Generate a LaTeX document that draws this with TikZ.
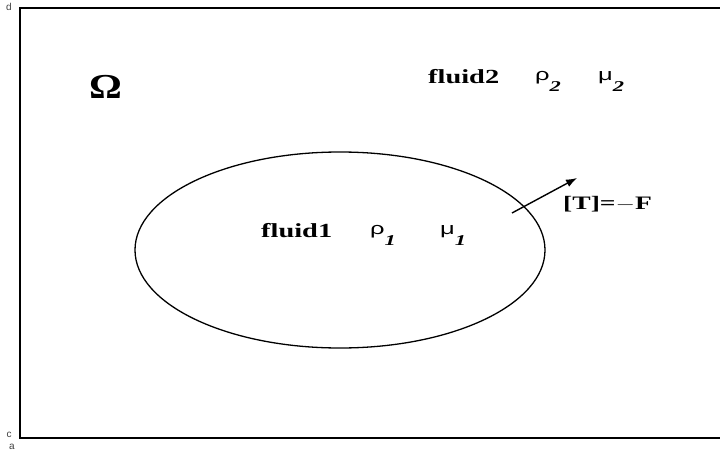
\documentclass[tikz,border=0pt]{standalone}
\usepackage{fontspec}
\setmainfont{Liberation Serif}
\newfontfamily\grk{Liberation Sans}
\usetikzlibrary{arrows.meta, positioning, shapes.geometric}
\tikzset{
  dom/.style={draw, line width=1.6pt},
  drop/.style={draw, ellipse, line width=1.3pt, minimum width=410pt, minimum height=196pt, inner sep=0pt},
  nm/.style={font=\fontsize{20}{22}\selectfont\bfseries, inner sep=0pt, anchor=base west},
  gk/.style={font=\fontsize{17}{20}\selectfont, inner sep=0pt, anchor=base west},
  tiny/.style={font=\fontsize{10}{12}\selectfont\grk, text=black!75, inner sep=0pt, anchor=base},
  arrow/.style={-{Latex[length=11pt,width=8pt]}, line width=1.4pt}
}
\newcommand{\wide}[2][1.42]{\scalebox{#1}[1]{#2}}
\newcommand{\gsub}[2]{\wide[1.5]{{\grk #1}\raisebox{-11pt}{\fontsize{15}{16}\selectfont\bfseries\itshape #2}}}
\begin{document}
\begin{tikzpicture}[x=1pt, y=-1pt]
  \useasboundingbox (0,0) rectangle (720,452);
  % computational domain
  \coordinate (ll) at (20,438);
  \coordinate (ul) at (20,8);
  \coordinate (ur) at (722,8);
  \coordinate (lr) at (722,438);
  \draw[dom] (ur) -- (ul) -- (ll) -- (lr);
  \node[tiny] (d) at (9,11) {d};
  \node[tiny] (c) at (9,437) {c};
  \node[tiny] (a) at (12,449) {a};
  \node[font=\fontsize{35}{38}\selectfont\bfseries, inner sep=0pt, anchor=base west] (om) at (89,98) {\wide[1.17]{Ω}};
  % outer fluid
  \node[nm] (f2) at (428,83) {\wide{fluid2}};
  \node[gk] (r2) at (535,81) {\gsub{ρ}{2}};
  \node[gk] (m2) at (598,81) {\gsub{μ}{2}};
  % drop
  \node[drop] (e) at (340,250) {};
  \node[nm] (f1) at (261,237) {\wide{fluid1}};
  \node[gk] (r1) at (370,234) {\gsub{ρ}{1}};
  \node[gk] (m1) at (440,234) {\gsub{μ}{1}};
  % interface jump
  \coordinate (s) at (512,213);
  \coordinate (t) at (577,178);
  \draw[arrow] (s) -- (t);
  \node[nm, font=\fontsize{19}{21}\selectfont\bfseries] (j) at (563,209) {\wide[1.45]{[T]=$-$F}};
\end{tikzpicture}
\end{document}
